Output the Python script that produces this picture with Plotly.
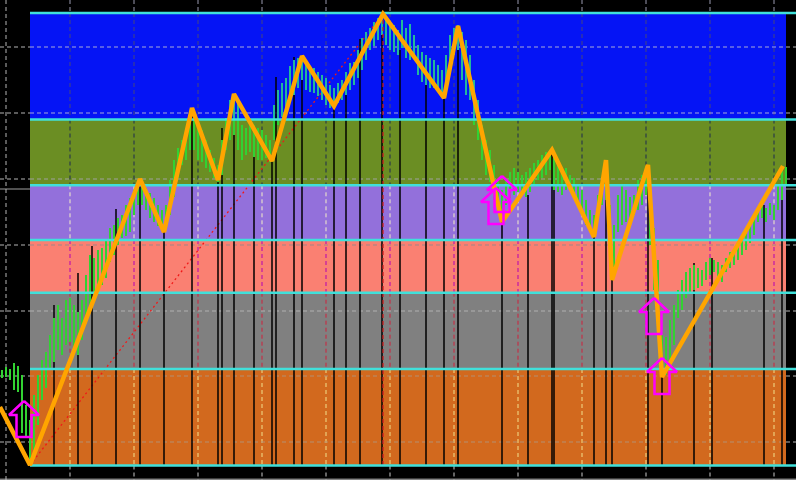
import plotly.graph_objects as go

# ---------------- data (price in points, time in chart units) ----------------
ZONE_LEVELS = [467.0, 360.5, 294.7, 240.0, 187.3, 111.0, 14.5]
ZONE_COLORS = ["#0514F5", "#6B8E23", "#9370DB", "#FA8072", "#808080", "#D2691E"]
ZONE_T0, ZONE_T1 = 30, 786
LEVEL_LINE_T1 = 796
T_MAX, P_MAX = 796, 480

GRID_TIMES = [6, 70, 134, 198, 262, 326, 390, 454, 518, 582, 646, 710, 774]
GRID_PRICES = [433, 367, 301, 235, 169, 104, 38]
BID_PRICE = 291

BAR_T = list(range(2, 790, 4))
BAR_HIGH = [110, 113, 111, 117, 114, 105, 75, 60, 85, 105,
            120, 128, 145, 162, 175, 162, 180, 182, 175, 168,
            180, 205, 225, 222, 230, 232, 240, 252, 255, 262,
            265, 275, 282, 290, 297, 295, 292, 287, 282, 275,
            270, 275, 300, 320, 332, 340, 352, 368, 362, 354,
            350, 340, 330, 322, 315, 340, 362, 380, 383, 380,
            355, 352, 357, 355, 352, 350, 345, 340, 375, 390,
            397, 402, 414, 420, 422, 423, 417, 410, 412, 408,
            405, 402, 395, 392, 397, 400, 408, 417, 418, 430,
            442, 448, 452, 458, 462, 465, 462, 458, 455, 450,
            460, 452, 456, 445, 435, 428, 425, 422, 420, 415,
            410, 425, 445, 452, 455, 448, 440, 425, 400, 380,
            355, 340, 330, 315, 300, 290, 302, 308, 312, 308,
            305, 308, 312, 317, 320, 325, 328, 330, 323, 318,
            310, 312, 305, 302, 295, 290, 280, 270, 265, 285,
            300, 315, 275, 255, 285, 295, 290, 283, 285, 300,
            305, 312, 270, 252, 220, 150, 143, 160, 175, 190,
            200, 208, 212, 215, 212, 210, 218, 222, 220, 218,
            215, 222, 228, 230, 238, 242, 250, 260, 265, 272,
            275, 272, 277, 275, 295, 310, 313]
BAR_LOW = [102, 103, 100, 90, 88, 47, 43, 18, 30, 55,
           80, 92, 110, 118, 130, 125, 135, 138, 130, 125,
           140, 160, 175, 180, 188, 195, 202, 218, 225, 235,
           242, 244, 248, 265, 275, 275, 270, 262, 258, 254,
           250, 252, 265, 283, 302, 315, 320, 330, 330, 320,
           318, 312, 308, 302, 298, 305, 330, 340, 345, 330,
           320, 325, 328, 323, 320, 320, 322, 318, 340, 355,
           363, 370, 380, 385, 392, 400, 390, 388, 387, 384,
           380, 375, 372, 372, 377, 380, 385, 390, 395, 402,
           410, 420, 430, 434, 440, 445, 435, 430, 428, 425,
           432, 422, 420, 425, 405, 398, 395, 392, 392, 390,
           383, 385, 410, 425, 430, 400, 385, 380, 355, 340,
           320, 305, 298, 280, 268, 260, 275, 282, 285, 288,
           285, 283, 288, 295, 300, 302, 305, 310, 290, 288,
           285, 290, 292, 285, 275, 265, 255, 248, 244, 260,
           275, 280, 230, 202, 248, 255, 258, 257, 265, 270,
           275, 285, 235, 190, 177, 110, 105, 115, 135, 162,
           170, 182, 188, 190, 192, 194, 200, 205, 208, 202,
           198, 208, 212, 215, 220, 225, 230, 237, 245, 258,
           262, 258, 265, 260, 270, 280, 295]

ZZ_T = [0, 30, 140, 164, 192, 218, 234, 272, 302, 334, 383, 444, 458,
        502, 552, 594, 606, 612, 648, 662, 783]
ZZ_P = [73, 15, 301, 248, 372, 300, 386, 319, 424, 374, 466, 382, 454,
        258, 330, 243, 320, 200, 315, 103, 314]

SIGNAL_T = [54, 78, 92, 116, 140, 164, 192, 218, 222, 234, 254, 272, 276,
            294, 302, 334, 346, 360, 382, 400, 426, 444, 458, 502, 528,
            552, 554, 594, 606, 612, 648, 662, 694, 712, 764, 782]
SIGNAL_P = [175, 207, 234, 271, 300, 248, 372, 300, 352, 386, 324, 318, 403,
            423, 424, 374, 405, 441, 466, 430, 398, 381, 454, 260, 285,
            329, 329, 243, 320, 200, 315, 103, 217, 222, 275, 313]

TREND_T = [30, 383]
TREND_P = [15, 466]
MARK_T = 383

ARROW_T = [24, 502, 496, 654, 662]
ARROW_P = [79, 304, 292, 182, 122]

# ---------------- styles ----------------
ARROW_GLYPH_DT = [0, 15, 7.5, 7.5, -7.5, -7.5, -15, 0]
ARROW_GLYPH_DP = [0, -14, -14, -36, -36, -14, -14, 0]
OUTSIDE_GRID = "#B4B4B4"
VGRID_ZONE_COLORS = ["#46467C", "#1E2A50", "#F4EEC8", "#B400B4", "#D0203C", "#F2E08A"]
HGRID_ZONE_COLORS = {433: "#A8A8D8", 367: "#A8A8D8", 301: "#A0A0A0",
                     235: "#A08585", 169: "#B0B0B0", 104: "#B49070", 38: "#B49070"}
GRID_DASH = "4px,3px"


def seg(xs, ys, color, width, dash=None):
    return go.Scatter(x=xs, y=ys, mode="lines",
                      line=dict(color=color, width=width, dash=dash),
                      hoverinfo="skip", showlegend=False)


fig = go.Figure()
shapes = [dict(type="line", xref="x", yref="y", x0=0, x1=T_MAX, y0=BID_PRICE, y1=BID_PRICE,
               line=dict(color="#A0A0A0", width=1), layer="below")]
for i, c in enumerate(ZONE_COLORS):
    shapes.append(dict(type="rect", xref="x", yref="y", x0=ZONE_T0, x1=ZONE_T1,
                       y0=ZONE_LEVELS[i + 1], y1=ZONE_LEVELS[i], fillcolor=c,
                       line=dict(width=0), layer="below"))

# vertical grid, coloured per zone
vsegs = {}
def add_v(color, t, p0, p1):
    xs, ys = vsegs.setdefault(color, ([], []))
    xs += [t, t, None]
    ys += [p0, p1, None]

bounds = [P_MAX] + ZONE_LEVELS + [0]
bcolors = ["#9A9AB0"] + VGRID_ZONE_COLORS + ["#C8C8C8"]
for t in GRID_TIMES:
    if t < ZONE_T0 or t > ZONE_T1:
        add_v(OUTSIDE_GRID, t, 0, P_MAX)
    else:
        for k in range(len(bounds) - 1):
            add_v(bcolors[k], t, bounds[k], bounds[k + 1])
for color, (xs, ys) in vsegs.items():
    fig.add_trace(seg(xs, ys, color, 1, GRID_DASH))

# horizontal grid
ox, oy = [], []
for p in GRID_PRICES:
    ox += [0, ZONE_T0, None, ZONE_T1, T_MAX, None]
    oy += [p, p, None, p, p, None]
    fig.add_trace(seg([ZONE_T0, ZONE_T1], [p, p], HGRID_ZONE_COLORS[p], 1, GRID_DASH))
fig.add_trace(seg(ox, oy, OUTSIDE_GRID, 1, GRID_DASH))

# trend line (dotted red)
fig.add_trace(seg(TREND_T, TREND_P, "#F01818", 1.3, "2px,3px"))

# black signal lines
sx, sy = [], []
for t, p in zip(SIGNAL_T, SIGNAL_P):
    sx += [t, t, None]
    sy += [p, ZONE_LEVELS[-1], None]
fig.add_trace(seg(sx, sy, "#000000", 1.5))

# price bars (teal where inside the top zone)
gx, gy, bx, by = [], [], [], []
split = ZONE_LEVELS[1]
for t, h, l in zip(BAR_T, BAR_HIGH, BAR_LOW):
    if h > split and ZONE_T0 <= t <= ZONE_T1:
        bx += [t, t, None]
        by += [h, max(l, split), None]
        if l < split:
            gx += [t, t, None]
            gy += [split, l, None]
    else:
        gx += [t, t, None]
        gy += [h, l, None]
fig.add_trace(seg(gx, gy, "#32D232", 2))
fig.add_trace(seg(bx, by, "#22B89C", 2))

# red dashed vertical marker
fig.add_trace(seg([MARK_T, MARK_T], [ZONE_LEVELS[0], ZONE_LEVELS[-1]], "#D01A1A", 1.2, "4px,3px"))

# cyan level lines
lx, ly = [], []
for p in ZONE_LEVELS:
    lx += [ZONE_T0, LEVEL_LINE_T1, None]
    ly += [p, p, None]
fig.add_trace(seg(lx, ly, "#40E0DA", 2.6))

# bottom separator
fig.add_trace(seg([0, T_MAX], [0.8, 0.8], "#C0C0C0", 1))

# zigzag
fig.add_trace(go.Scatter(x=ZZ_T, y=ZZ_P, mode="lines",
                         line=dict(color="#FFA500", width=4.5),
                         hoverinfo="skip", showlegend=False))

# hollow up arrows
ax, ay = [], []
for t, p in zip(ARROW_T, ARROW_P):
    ax += [t + d for d in ARROW_GLYPH_DT] + [None]
    ay += [p + d for d in ARROW_GLYPH_DP] + [None]
fig.add_trace(seg(ax, ay, "#FF00FF", 2.5))

fig.update_layout(width=796, height=480, autosize=False,
                  margin=dict(l=0, r=0, t=0, b=0, pad=0),
                  paper_bgcolor="#000000", plot_bgcolor="#000000",
                  showlegend=False, shapes=shapes)
fig.update_xaxes(range=[0, T_MAX], visible=False, fixedrange=True)
fig.update_yaxes(range=[0, P_MAX], visible=False, fixedrange=True)

fig.write_html("out.html", config={"displayModeBar": False})

# remove the browser's default page margin so the figure fills the window
with open("out.html", "r", encoding="utf-8") as fh:
    html = fh.read()
html = html.replace("<body>", '<body style="margin:0;padding:0;overflow:hidden;background:#000">', 1)
with open("out.html", "w", encoding="utf-8") as fh:
    fh.write(html)
